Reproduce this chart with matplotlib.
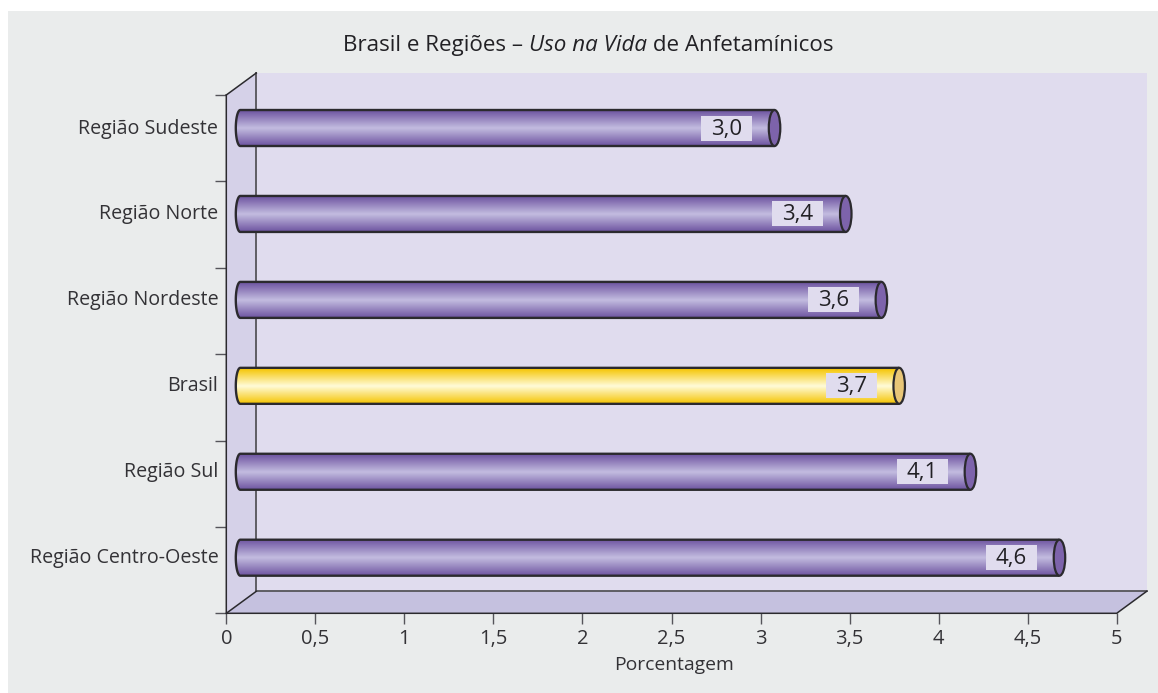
import matplotlib
matplotlib.use('Agg')
import matplotlib.pyplot as plt
from matplotlib.patches import Ellipse, PathPatch, Polygon, Rectangle
from matplotlib.path import Path
import numpy as np

plt.rcParams['font.family'] = 'Open Sans'

# Data, bottom to top as in the picture
regioes = ['Região Centro-Oeste', 'Região Sul', 'Brasil', 'Região Nordeste', 'Região Norte', 'Região Sudeste']
valores = [4.6, 4.1, 3.7, 3.6, 3.4, 3.0]
rotulos = ['4,6', '4,1', '3,7', '3,6', '3,4', '3,0']
xticks_values = [0, 0.5, 1, 1.5, 2, 2.5, 3, 3.5, 4, 4.5, 5]
xticks_labels = ['0', '0,5', '1', '1,5', '2', '2,5', '3', '3,5', '4', '4,5', '5']

W, H = 1158, 693
fig = plt.figure(figsize=(W / 100, H / 100), dpi=100, facecolor='white')
fig.add_artist(Rectangle((8 / W, 0), (W - 8) / W, 1 - 11 / H, transform=fig.transFigure, fc='#eaecec', ec='none', zorder=-1))

# front plane of the chart in pixels
left, right, top, bottom = 226.3, 1116.7, 95, 613.3
ax = fig.add_axes([left / W, 1 - bottom / H, (right - left) / W, (bottom - top) / H])
ax.patch.set_alpha(0)
for s in ax.spines.values():
    s.set_visible(False)
px = (right - left) / 5  # pixels per x unit
py = (bottom - top) / 6  # pixels per category

# depth of the fake 3D box, in data units
dx = 30 / px
dy = 22 / py
linha = '#2b2a2e'
texto = '#333236'

ax.add_patch(Polygon([(dx, dy), (5 + dx, dy), (5 + dx, 6 + dy), (dx, 6 + dy)], fc='#e0dcee', ec='none', clip_on=False, zorder=1))
ax.add_patch(Polygon([(0, 0), (dx, dy), (dx, 6 + dy), (0, 6)], fc='#d5d1e8', ec='none', clip_on=False, zorder=1))
ax.add_patch(Polygon([(0, 0), (5, 0), (5 + dx, dy), (dx, dy)], fc='#c5c1df', ec='none', clip_on=False, zorder=1))
ax.plot([dx, dx], [dy, 6 + dy], color='#555459', lw=1.3, zorder=2, clip_on=False)
ax.plot([dx, 5 + dx], [dy, dy], color='#555459', lw=1.3, zorder=2, clip_on=False)
ax.plot([0, 0, 5, 5 + dx], [6, 0, 0, dy], color=linha, lw=1.1, zorder=2, clip_on=False)
ax.plot([0, dx], [0, dy], color=linha, lw=1.1, zorder=2, clip_on=False)
ax.plot([0, dx], [6, 6 + dy], color=linha, lw=1.1, zorder=2, clip_on=False)

ax.set_xticks(xticks_values)
ax.set_xticklabels(xticks_labels, fontsize=14.5, color=texto)
ax.set_yticks(range(7))
ax.set_yticklabels([])
ax.tick_params(axis='both', length=8, width=1, color='#55545a', pad=3)
ax.set_xlabel('Porcentagem', fontsize=13.9, color=texto, va='center')
ax.xaxis.set_label_coords(0.5025, -52 / (bottom - top))

# cylinders
bar_h = 36 / py
cap_w = 11.5 / px
cap_esq = 9 / px
off_x = 14 / px
off_y = 12.4 / py
passo = 85.94 / py


def gradient(c_edge, c_mid):
    c_edge = np.array(matplotlib.colors.to_rgb(c_edge))
    c_mid = np.array(matplotlib.colors.to_rgb(c_mid))
    t = np.abs(np.linspace(-1, 1, 64))[:, None, None]
    return c_mid * (1 - t) + c_edge * t


for i, (nome, v, rot) in enumerate(zip(regioes, valores, rotulos)):
    y = 0.5 + i * passo + off_y
    x0 = off_x
    x1 = v + off_x
    if nome == 'Brasil':
        edge, mid, cap = '#f5c400', '#fffbd8', '#e8c677'
    else:
        edge, mid, cap = '#6d53a0', '#c3bce0', '#7d63ab'
    # outline of the body, rounded on the left end
    ang = np.linspace(np.pi / 2, 3 * np.pi / 2, 30)
    xs = np.r_[x1, x0 + cap_esq / 2 * np.cos(ang), x1]
    ys = np.r_[y + bar_h / 2, y + bar_h / 2 * np.sin(ang), y - bar_h / 2]
    corpo = PathPatch(Path(np.c_[xs, ys]), fc='none', ec=linha, lw=1.7, zorder=4, clip_on=False)
    ax.add_patch(corpo)
    im = ax.imshow(gradient(edge, mid), extent=[x0 - cap_esq / 2, x1, y - bar_h / 2, y + bar_h / 2],
                   aspect='auto', zorder=3, interpolation='bilinear')
    im.set_clip_path(PathPatch(Path(np.c_[xs, ys]), transform=ax.transData))
    ax.add_patch(Ellipse((x1, y), cap_w, bar_h, fc=cap, ec=linha, lw=1.6, zorder=5, clip_on=False))
    # value label on its own box
    cx = x1 - 48 / px
    ax.add_patch(Rectangle((cx - 25.5 / px, y - 12.5 / py), 51 / px, 25 / py, fc='#e0dcee', ec='none', zorder=6, clip_on=False))
    ax.text(cx, y - 1 / py, rot, ha='center', va='center', fontsize=16, color='#222125', zorder=7)
    ax.text(-8 / px, y - 0.5 / py, nome, ha='right', va='center', fontsize=14.1, color=texto, clip_on=False, zorder=6)

ax.set_xlim(0, 5)
ax.set_ylim(0, 6)

# title with the italic part as its own text pieces
r = fig.canvas.get_renderer()
partes = [('Brasil e Regiões – ', 'normal'), ('Uso na Vida', 'italic'), (' de Anfetamínicos', 'normal')]
x_px = 343
for txt, estilo in partes:
    t = fig.text(x_px / W, 1 - 45.5 / H, txt, fontsize=16.1, style=estilo, color='#222125', va='center', ha='left')
    x_px += t.get_window_extent(r).width

fig.savefig('out.png', dpi=100)
